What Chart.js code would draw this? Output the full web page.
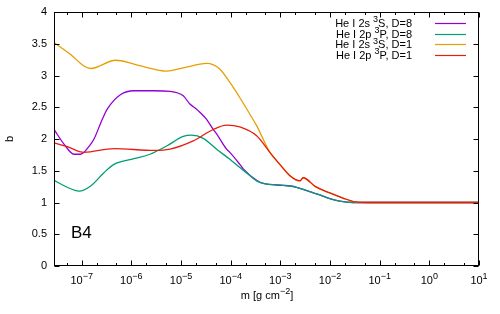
<!DOCTYPE html>
<html>
<head>
<meta charset="utf-8">
<script src="https://cdn.jsdelivr.net/npm/chart.js@4/dist/chart.umd.min.js"></script>
<style>
  html, body { margin: 0; padding: 0; background: #fff; }
  #wrap { width: 500px; height: 314px; }
</style>
</head>
<body>
<div id="wrap"><canvas id="chart" width="500" height="314"></canvas></div>
<script>
// series: m [g cm^-2] and b
const m2sD8 = [2.77e-8, 4.4e-8, 7.0e-8, 9.5e-8, 1.52e-7, 1.77e-7, 2.6e-7, 3.27e-7, 6.1e-7, 1.13e-6, 2.85e-6, 6.0e-6, 1.11e-5, 1.51e-5, 2.06e-5, 2.4e-5, 3.27e-5, 4.45e-5, 5.21e-5, 8.28e-5, 9.64e-5, 1.53e-4, 1.79e-4, 3.33e-4, 4.51e-4, 1.14e-3, 1.56e-3, 2.12e-3, 3.9e-3, 6.24e-3, 9.9e-3, 1.57e-2, 2.9e-2, 1e-1, 10];
const b2sD8 = [2.15, 1.92, 1.76, 1.76, 1.92, 2.0, 2.31, 2.47, 2.70, 2.76, 2.76, 2.75, 2.68, 2.55, 2.47, 2.42, 2.31, 2.15, 2.08, 1.84, 1.79, 1.60, 1.53, 1.35, 1.30, 1.27, 1.26, 1.24, 1.17, 1.12, 1.06, 1.02, 1.0, 1.0, 1.0];

const m2pD8 = [2.77e-8, 5.14e-8, 8.8e-8, 1.52e-7, 2.81e-7, 4.47e-7, 1.13e-6, 2.37e-6, 5.14e-6, 1.11e-5, 1.64e-5, 2.8e-5, 5.21e-5, 9.64e-5, 1.53e-4, 1.79e-4, 3.33e-4, 4.51e-4, 1.14e-3, 1.56e-3, 2.12e-3, 3.9e-3, 6.24e-3, 9.9e-3, 1.57e-2, 2.9e-2, 1e-1, 10];
const b2pD8 = [1.35, 1.24, 1.18, 1.26, 1.47, 1.60, 1.69, 1.76, 1.89, 2.04, 2.06, 2.01, 1.84, 1.68, 1.55, 1.51, 1.34, 1.30, 1.27, 1.26, 1.24, 1.17, 1.12, 1.06, 1.02, 1.0, 1.0, 1.0];

const m2sD1 = [2.77e-8, 6.0e-8, 1.11e-7, 1.52e-7, 4.83e-7, 1.13e-6, 2.85e-6, 5.14e-6, 1.11e-5, 3.27e-5, 6.07e-5, 9.64e-5, 1.53e-4, 2.44e-4, 3.33e-4, 6.15e-4, 9.78e-4, 1.56e-3, 2.47e-3, 2.88e-3, 5.1e-3, 9.9e-3, 1.82e-2, 3.2e-2, 5.4e-2, 10];
const b2sD1 = [3.52, 3.33, 3.15, 3.11, 3.24, 3.18, 3.10, 3.07, 3.12, 3.19, 3.10, 2.89, 2.65, 2.39, 2.21, 1.79, 1.60, 1.42, 1.34, 1.39, 1.25, 1.15, 1.07, 1.01, 1.0, 1.0];

const m2pD1 = [2.77e-8, 5.14e-8, 1.11e-7, 4.47e-7, 2.85e-6, 6.0e-6, 1.76e-5, 4.45e-5, 8.28e-5, 1.53e-4, 3.33e-4, 6.15e-4, 9.78e-4, 1.56e-3, 2.47e-3, 2.88e-3, 5.1e-3, 9.9e-3, 1.82e-2, 3.2e-2, 5.4e-2, 10];
const b2pD1 = [1.94, 1.88, 1.79, 1.85, 1.82, 1.84, 1.97, 2.15, 2.22, 2.19, 2.05, 1.79, 1.60, 1.42, 1.34, 1.39, 1.25, 1.15, 1.07, 1.01, 1.0, 1.0];

const xMajorExp = [-7, -6, -5, -4, -3, -2, -1, 0, 1];
const xMinorMant = [2, 5];
const yTicks = [0, 0.5, 1, 1.5, 2, 2.5, 3, 3.5, 4];

const FONT = '"Liberation Sans", Arial, sans-serif';

const pts = (ms, bs) => ms.map((m, i) => ({ x: m, y: bs[i] }));

// legend entries: [before sup, sup, after sup]
const series = [
  { label: ["He I 2s ", "3", "S, D=8"], m: m2sD8, b: b2sD8, color: "#9400d3" },
  { label: ["He I 2p ", "3", "P, D=8"], m: m2pD8, b: b2pD8, color: "#009e73" },
  { label: ["He I 2s ", "3", "S, D=1"], m: m2sD1, b: b2sD1, color: "#e69f00" },
  { label: ["He I 2p ", "3", "P, D=1"], m: m2pD1, b: b2pD1, color: "#e51e10" },
];

// draw text with one superscript run
function supText(ctx, parts, x, y, size, align) {
  const big = size + "px " + FONT;
  const small = Math.round(size * 0.8) + "px " + FONT;
  ctx.font = big;
  const w0 = ctx.measureText(parts[0]).width;
  const w2 = parts[2] ? ctx.measureText(parts[2]).width : 0;
  ctx.font = small;
  const w1 = ctx.measureText(parts[1]).width;
  const total = w0 + w1 + w2;
  let x0 = x;
  if (align === "right") x0 = x - total;
  else if (align === "center") x0 = x - total / 2;
  ctx.textAlign = "left";
  ctx.textBaseline = "alphabetic";
  ctx.font = big;
  ctx.fillText(parts[0], x0, y);
  ctx.font = small;
  ctx.fillText(parts[1], x0 + w0, y - size * 0.42);
  if (parts[2]) {
    ctx.font = big;
    ctx.fillText(parts[2], x0 + w0 + w1, y);
  }
}

const frame = {
  id: "frame",
  afterDraw(chart) {
    const { ctx, chartArea: a, scales } = chart;
    const xs = scales.x, ys = scales.y;
    ctx.save();
    ctx.strokeStyle = "#000";
    ctx.fillStyle = "#000";
    ctx.lineWidth = 1;
    const L = Math.round(a.left) + 0.5, R = Math.round(a.right) - 0.5;
    const T = Math.round(a.top) + 0.5, B = Math.round(a.bottom) - 0.5;
    ctx.strokeRect(L, T, R - L, B - T);

    // x ticks (inward, mirrored)
    ctx.beginPath();
    for (let e = -8; e <= 1; e++) {
      const v = Math.pow(10, e);
      if (v >= xs.min && v <= xs.max) {
        const px = Math.round(xs.getPixelForValue(v)) + 0.5;
        ctx.moveTo(px, B); ctx.lineTo(px, B - 5);
        ctx.moveTo(px, T); ctx.lineTo(px, T + 5);
      }
      for (const k of xMinorMant) {
        const mv = k * v;
        if (mv < xs.min || mv > xs.max) continue;
        const px = Math.round(xs.getPixelForValue(mv)) + 0.5;
        ctx.moveTo(px, B); ctx.lineTo(px, B - 2.5);
        ctx.moveTo(px, T); ctx.lineTo(px, T + 2.5);
      }
    }
    // y ticks
    for (const t of yTicks) {
      const py = Math.round(ys.getPixelForValue(t)) + 0.5;
      ctx.moveTo(L, py); ctx.lineTo(L + 5, py);
      ctx.moveTo(R, py); ctx.lineTo(R - 5, py);
    }
    ctx.stroke();

    // tick labels
    for (const e of xMajorExp) {
      const px = xs.getPixelForValue(Math.pow(10, e));
      supText(ctx, ["10", String(e).replace("-", "\u2212"), ""], px, 284, 11, "center");
    }
    ctx.font = "11px " + FONT;
    ctx.textAlign = "right";
    ctx.textBaseline = "middle";
    for (const t of yTicks) {
      ctx.fillText(String(t), 47, ys.getPixelForValue(t));
    }

    // axis titles
    supText(ctx, ["m [g cm", "\u22122", "]"], 267, 299, 11, "center");
    ctx.save();
    ctx.translate(13, 139);
    ctx.rotate(-Math.PI / 2);
    ctx.font = "11px " + FONT;
    ctx.textAlign = "center";
    ctx.textBaseline = "alphabetic";
    ctx.fillText("b", 0, 0);
    ctx.restore();

    // panel tag
    ctx.font = "17px " + FONT;
    ctx.textAlign = "left";
    ctx.textBaseline = "alphabetic";
    ctx.fillText("B4", 71, 238);

    // key
    series.forEach((s, i) => {
      const y = 22.7 + i * 10.8;
      ctx.fillStyle = "#000";
      supText(ctx, s.label, 412, y + 4, 11, "right");
      ctx.strokeStyle = s.color;
      ctx.lineWidth = 1.2;
      ctx.beginPath();
      ctx.moveTo(435, Math.round(y) + 0.5);
      ctx.lineTo(466, Math.round(y) + 0.5);
      ctx.stroke();
    });
    ctx.restore();
  },
};

new Chart(document.getElementById("chart"), {
  type: "line",
  data: {
    datasets: series.map((s, i) => ({
      label: s.label.join(""),
      data: pts(s.m, s.b),
      borderColor: s.color,
      backgroundColor: s.color,
      borderWidth: 1.3,
      pointRadius: 0,
      fill: false,
      cubicInterpolationMode: "monotone",
      order: series.length - i,
    })),
  },
  options: {
    responsive: false,
    animation: false,
    devicePixelRatio: 1,
    layout: { padding: { left: 54, right: 21, top: 12, bottom: 48 } },
    plugins: { legend: { display: false }, tooltip: { enabled: false } },
    scales: {
      x: { type: "logarithmic", min: 2.77e-8, max: 10, display: false },
      y: { type: "linear", min: 0, max: 4, display: false },
    },
  },
  plugins: [frame],
});
</script>
</body>
</html>
